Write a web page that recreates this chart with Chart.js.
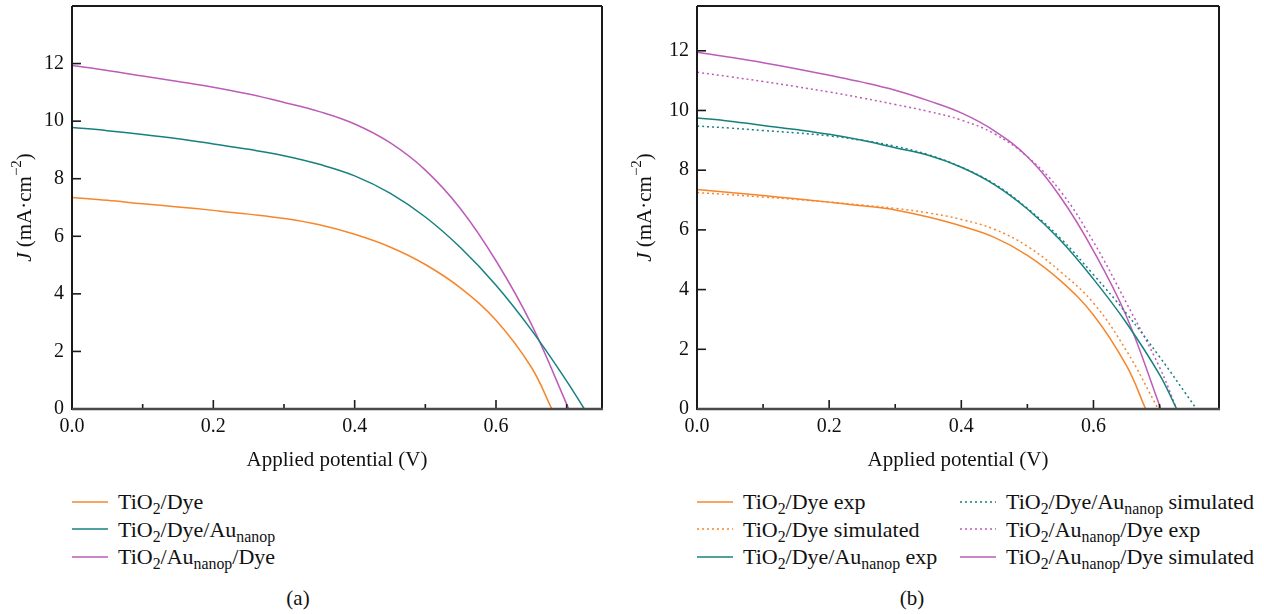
<!DOCTYPE html>
<html>
<head>
<meta charset="utf-8">
<script src="https://cdn.jsdelivr.net/npm/chart.js@4.4.1/dist/chart.umd.min.js"></script>
<style>
  body { margin: 0; background: #fff; }
  #page { position: relative; width: 1264px; height: 614px; font-family: "Liberation Serif", "Times New Roman", "DejaVu Serif", serif; color: #111; }
  canvas { position: absolute; top: 0; }
  .legend { position: absolute; font-size: 22px; }
  .row { height: 27.5px; line-height: 27.5px; white-space: nowrap; display: flex; align-items: center; }
  .row svg { margin-right: 10px; }
  sub { font-size: 0.72em; vertical-align: -0.3em; line-height: 0; }
  .tag { position: absolute; top: 586px; font-size: 21px; width: 60px; text-align: center; }
</style>
</head>
<body>
<div id="page">
  <canvas id="chartA" width="610" height="475" style="left:0"></canvas>
  <canvas id="chartB" width="610" height="475" style="left:620px"></canvas>
  <div class="legend" id="legendA" style="left:72px; top:488px"></div>
  <div class="legend" id="legendB1" style="left:697px; top:488px"></div>
  <div class="legend" id="legendB2" style="left:960px; top:488px"></div>
  <div class="tag" style="left:268px">(a)</div>
  <div class="tag" style="left:882px">(b)</div>
</div>
<script>
// axis ticks
const xMajor = [0, 0.2, 0.4, 0.6];
const xMinor = [0.1, 0.3, 0.5, 0.7];
const yMajor = [0, 2, 4, 6, 8, 10, 12];

// (a) measured curves
const vDyeA = [0, 0.05, 0.1, 0.15, 0.2, 0.25, 0.3, 0.35, 0.4, 0.45, 0.5, 0.55, 0.6, 0.65, 0.679];
const jDyeA = [7.35, 7.25, 7.13, 7.02, 6.9, 6.77, 6.62, 6.4, 6.07, 5.63, 5.02, 4.2, 3.08, 1.45, 0];
const vDyeAuA = [0, 0.05, 0.1, 0.15, 0.2, 0.25, 0.3, 0.35, 0.4, 0.45, 0.5, 0.55, 0.6, 0.65, 0.7, 0.725];
const jDyeAuA = [9.78, 9.67, 9.54, 9.39, 9.21, 9.02, 8.8, 8.5, 8.1, 7.5, 6.67, 5.6, 4.3, 2.75, 0.97, 0];
const vAuDyeA = [0, 0.05, 0.1, 0.15, 0.2, 0.25, 0.3, 0.35, 0.4, 0.45, 0.5, 0.55, 0.6, 0.65, 0.703];
const jAuDyeA = [11.93, 11.76, 11.57, 11.38, 11.18, 10.94, 10.65, 10.33, 9.9, 9.25, 8.3, 6.95, 5.15, 2.95, 0];

// (b) experiment vs simulation
const vDyeExp = [0, 0.05, 0.1, 0.15, 0.2, 0.25, 0.3, 0.35, 0.4, 0.45, 0.5, 0.55, 0.6, 0.65, 0.679];
const jDyeExp = [7.35, 7.25, 7.15, 7.04, 6.93, 6.81, 6.67, 6.43, 6.13, 5.75, 5.15, 4.3, 3.15, 1.45, 0];
const vDyeSim = [0, 0.05, 0.1, 0.15, 0.2, 0.25, 0.3, 0.35, 0.4, 0.45, 0.5, 0.55, 0.6, 0.65, 0.698];
const jDyeSim = [7.25, 7.18, 7.1, 7.02, 6.93, 6.83, 6.72, 6.57, 6.35, 6.02, 5.45, 4.6, 3.55, 1.95, 0];
const vDyeAuExp = [0, 0.05, 0.1, 0.15, 0.2, 0.25, 0.3, 0.35, 0.4, 0.45, 0.5, 0.55, 0.6, 0.65, 0.7, 0.726];
const jDyeAuExp = [9.75, 9.64, 9.5, 9.36, 9.2, 9.0, 8.75, 8.5, 8.1, 7.52, 6.7, 5.65, 4.35, 2.88, 1.15, 0];
const vDyeAuSim = [0, 0.05, 0.1, 0.15, 0.2, 0.25, 0.3, 0.35, 0.4, 0.45, 0.5, 0.55, 0.6, 0.65, 0.7, 0.756];
const jDyeAuSim = [9.48, 9.41, 9.33, 9.25, 9.15, 9.0, 8.8, 8.52, 8.1, 7.54, 6.72, 5.72, 4.5, 3.2, 1.75, 0];
const vAuDyeExp = [0, 0.05, 0.1, 0.15, 0.2, 0.25, 0.3, 0.35, 0.4, 0.45, 0.5, 0.55, 0.6, 0.65, 0.7, 0.726];
const jAuDyeExp = [11.28, 11.13, 10.97, 10.8, 10.62, 10.42, 10.2, 9.97, 9.68, 9.22, 8.45, 7.3, 5.6, 3.55, 1.4, 0];
const vAuDyeSim = [0, 0.05, 0.1, 0.15, 0.2, 0.25, 0.3, 0.35, 0.4, 0.45, 0.5, 0.55, 0.6, 0.65, 0.702];
const jAuDyeSim = [11.95, 11.78, 11.6, 11.4, 11.18, 10.95, 10.68, 10.33, 9.92, 9.32, 8.45, 7.1, 5.3, 3.1, 0];

const ORANGE = "#f7862b";
const TEAL = "#16807f";
const MAGENTA = "#bd5cb8";
const DOT = [2, 3];
const FONT = "'Liberation Serif', 'Times New Roman', serif";

const pts = (vs, js) => vs.map((v, i) => ({ x: v, y: js[i] }));

const series = (vs, js, color, dashed) => ({
  data: pts(vs, js),
  borderColor: color,
  borderWidth: 1.5,
  borderDash: dashed ? DOT : [],
  pointRadius: 0,
  tension: 0.4,
  fill: false,
});

// frame box + ticks pointing inwards
const frame = {
  id: "frame",
  afterDatasetsDraw(chart) {
    const { ctx, chartArea: a, scales } = chart;
    const x = scales.x, y = scales.y;
    ctx.save();
    ctx.strokeStyle = "#1a1a1a";
    ctx.lineWidth = 1.6;
    const ln = (x1, y1, x2, y2) => { ctx.beginPath(); ctx.moveTo(x1, y1); ctx.lineTo(x2, y2); ctx.stroke(); };
    xMajor.forEach(v => { const p = x.getPixelForValue(v); ln(p, a.bottom, p, a.bottom - 9); });
    xMinor.forEach(v => { if (v <= x.max) { const p = x.getPixelForValue(v); ln(p, a.bottom, p, a.bottom - 5); } });
    yMajor.forEach(v => { const p = y.getPixelForValue(v); ln(a.left, p, a.left + 9, p); });
    ctx.lineWidth = 2;
    ln(a.left, a.top, a.right, a.top);
    ln(a.right, a.top, a.right, a.bottom);
    ln(a.left, a.top, a.left, a.bottom + 1);
    ctx.strokeStyle = "#4a4a4a";
    ctx.lineWidth = 2.5;
    ln(a.left, a.bottom, a.right + 1, a.bottom);
    ctx.restore();
  },
};

// y title with italic J and superscript
const yTitle = {
  id: "yTitle",
  afterDraw(chart) {
    const ctx = chart.ctx;
    const a = chart.chartArea;
    const parts = [
      { t: "J", f: "italic 21px " + FONT, dy: 0 },
      { t: " (mA·cm", f: "21px " + FONT, dy: 0 },
      { t: "−2", f: "15px " + FONT, dy: -8 },
      { t: ")", f: "21px " + FONT, dy: 0 },
    ];
    ctx.save();
    ctx.fillStyle = "#111";
    ctx.textBaseline = "middle";
    let w = 0;
    parts.forEach(p => { ctx.font = p.f; p.w = ctx.measureText(p.t).width; w += p.w; });
    ctx.translate(25, (a.top + a.bottom) / 2);
    ctx.rotate(-Math.PI / 2);
    let cx = -w / 2;
    parts.forEach(p => { ctx.font = p.f; ctx.fillText(p.t, cx, p.dy); cx += p.w; });
    ctx.restore();
  },
};

const makeChart = (id, datasets, xMax, yMax, yWidth, padRight) => {
  return new Chart(document.getElementById(id), {
    type: "line",
    data: { datasets },
    options: {
      responsive: false,
      devicePixelRatio: 1,
      animation: false,
      layout: { padding: { top: 6, right: padRight, left: 0, bottom: 0 } },
      plugins: { legend: { display: false }, tooltip: { enabled: false } },
      scales: {
        x: {
          type: "linear",
          min: 0,
          max: xMax,
          grid: { display: false, drawTicks: false },
          border: { display: false },
          afterBuildTicks: s => { s.ticks = xMajor.map(v => ({ value: v })); },
          afterFit: s => { s.height = 66; s.paddingLeft = 0; s.paddingRight = 0; },
          ticks: { padding: 6, color: "#111", font: { family: FONT, size: 20 }, callback: v => v.toFixed(1), maxRotation: 0 },
          title: { display: true, text: "Applied potential (V)", color: "#111", font: { family: FONT, size: 21 }, padding: { top: 0, bottom: 2 } },
        },
        y: {
          min: 0,
          max: yMax,
          grid: { display: false, drawTicks: false },
          border: { display: false },
          afterBuildTicks: s => { s.ticks = yMajor.map(v => ({ value: v })); },
          afterFit: s => { s.width = yWidth; s.paddingTop = 0; s.paddingBottom = 0; },
          ticks: { padding: 8, color: "#111", font: { family: FONT, size: 20 } },
        },
      },
    },
    plugins: [frame, yTitle],
  });
};

makeChart("chartA", [
  series(vDyeA, jDyeA, ORANGE, false),
  series(vDyeAuA, jDyeAuA, TEAL, false),
  series(vAuDyeA, jAuDyeA, MAGENTA, false),
], 0.75, 14, 72, 8);

makeChart("chartB", [
  series(vDyeExp, jDyeExp, ORANGE, false),
  series(vDyeSim, jDyeSim, ORANGE, true),
  series(vDyeAuExp, jDyeAuExp, TEAL, false),
  series(vDyeAuSim, jDyeAuSim, TEAL, true),
  series(vAuDyeExp, jAuDyeExp, MAGENTA, true),
  series(vAuDyeSim, jAuDyeSim, MAGENTA, false),
], 0.79, 13.5, 77, 11);

// html legends (subscripts need real markup)
const swatch = (color, dashed) =>
  `<svg width="36" height="4"><line x1="0" y1="2" x2="36" y2="2" stroke="${color}" stroke-width="1.6" ${dashed ? 'stroke-dasharray="2 3"' : ""}/></svg>`;
const row = (color, dashed, html) => `<div class="row">${swatch(color, dashed)}<span>${html}</span></div>`;
const au = "Au<sub>nanop</sub>";

document.getElementById("legendA").innerHTML =
  row(ORANGE, false, "TiO<sub>2</sub>/Dye") +
  row(TEAL, false, `TiO<sub>2</sub>/Dye/${au}`) +
  row(MAGENTA, false, `TiO<sub>2</sub>/${au}/Dye`);

document.getElementById("legendB1").innerHTML =
  row(ORANGE, false, "TiO<sub>2</sub>/Dye exp") +
  row(ORANGE, true, "TiO<sub>2</sub>/Dye simulated") +
  row(TEAL, false, `TiO<sub>2</sub>/Dye/${au} exp`);

document.getElementById("legendB2").innerHTML =
  row(TEAL, true, `TiO<sub>2</sub>/Dye/${au} simulated`) +
  row(MAGENTA, true, `TiO<sub>2</sub>/${au}/Dye exp`) +
  row(MAGENTA, false, `TiO<sub>2</sub>/${au}/Dye simulated`);
</script>
</body>
</html>
